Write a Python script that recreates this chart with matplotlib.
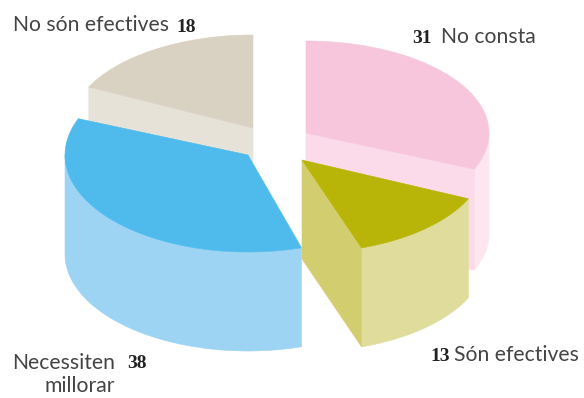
import numpy as np
import matplotlib
matplotlib.use("Agg")
import matplotlib.pyplot as plt

# --- data ---
categories = ["No consta", "Són efectives", "Necessiten\nmillorar", "No són efectives"]
values = [31, 13, 38, 18]

# --- style / layout ---
top_colors = ["#f7c5dc", "#b9b508", "#4fbbec", "#d9d1c1"]
outer_colors = ["#fde6f0", "#e0dd9c", "#9dd4f3", "#e6e2d8"]
start_wall_colors = ["#fbdbe9", "#d2ce70", "#9dd4f3", "#e6e2d8"]
apex_x = [306, 302, 248, 253]
apex_y = [133, 160, 155, 128]
radius_x = [183, 183, 183, 183]
radius_y = [92, 93, 97, 93]
depths = [101, 99, 99, 99]
start_adjust = [0, 3, 4.6, 1]
end_adjust = [1.5, 2.6, -3.2, 0]
draw_order = [0, 3, 2, 1]

fig = plt.figure(figsize=(5.84, 3.98), dpi=100)
ax = fig.add_axes([0, 0, 1, 1])
ax.set_xlim(0, 584)
ax.set_ylim(398, 0)
ax.axis("off")

edges = np.concatenate([[0], np.cumsum(values)]) / sum(values) * 360.0


def rim(i, a0, a1, n=80):
    t = np.radians(np.linspace(a0, a1, n))
    return apex_x[i] + radius_x[i] * np.sin(t), apex_y[i] - radius_y[i] * np.cos(t)


def fill(xs, ys, color, z):
    ax.fill(xs, ys, color=color, lw=0.4, zorder=z)


for z, i in enumerate(draw_order):
    a0 = edges[i] + start_adjust[i]
    a1 = edges[i + 1] + end_adjust[i]
    rx, ry = rim(i, a0, a1)
    ax_, ay_ = apex_x[i], apex_y[i]
    base = z * 10
    depth = depths[i]

    # outer curved wall: only the part of the rim that faces the viewer
    lo, hi = max(a0, 90), min(a1, 270)
    if lo < hi:
        wx, wy = rim(i, lo, hi)
        fill(np.r_[wx, wx[::-1]], np.r_[wy, wy[::-1] + depth],
             outer_colors[i], base + 1)

    # flat cut walls visible from the front
    if i in (0, 1):   # closing cut
        fill([ax_, rx[-1], rx[-1], ax_], [ay_, ry[-1], ry[-1] + depth, ay_ + depth],
             start_wall_colors[i], base + 2)
    if i == 3:   # opening cut
        fill([ax_, rx[0], rx[0], ax_], [ay_, ry[0], ry[0] + depth, ay_ + depth],
             start_wall_colors[i], base + 2)

    # top face
    fill(np.r_[ax_, rx], np.r_[ay_, ry], top_colors[i], base + 3)

txt = dict(family=["Lato", "DejaVu Sans"], fontsize=15.2, color="#444444", zorder=100)
num = dict(family=["Liberation Serif", "DejaVu Serif"], fontsize=14, fontweight="bold",
           color="#222222", zorder=100)

ax.text(13, 31, categories[3], ha="left", va="baseline", **txt)
ax.text(176, 32, str(values[3]), ha="left", va="baseline", **num)
ax.text(412, 43, str(values[0]), ha="left", va="baseline", **num)
ax.text(441, 43, categories[0], ha="left", va="baseline", **txt)
ax.text(430, 361, str(values[1]), ha="left", va="baseline", **num)
ax.text(454, 361, categories[1], ha="left", va="baseline", **txt)
l1, l2 = categories[2].split("\n")
ax.text(115, 369, l1, ha="right", va="baseline", **txt)
ax.text(115, 392, l2, ha="right", va="baseline", **txt)
ax.text(127, 368, str(values[2]), ha="left", va="baseline", **num)

fig.savefig("out.png", dpi=100)
